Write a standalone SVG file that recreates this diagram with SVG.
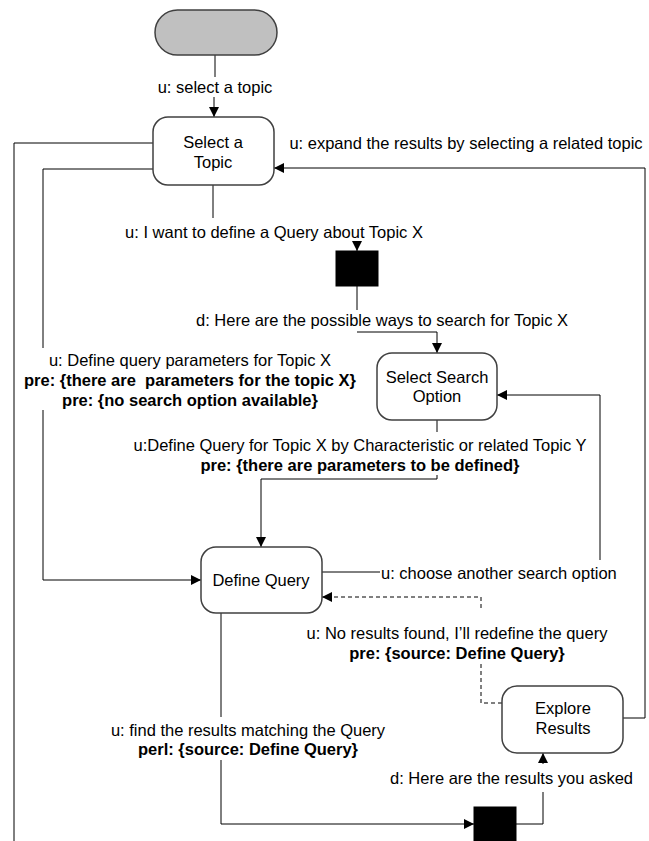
<svg xmlns="http://www.w3.org/2000/svg" width="649" height="841" viewBox="0 0 649 841">
<defs>
<marker id="arr" viewBox="0 0 10 10" refX="10" refY="5" markerWidth="10" markerHeight="10" markerUnits="userSpaceOnUse" orient="auto">
<path d="M0,0 L10,5 L0,10 z" fill="#000"/>
</marker>
<style>
text{font-family:"Liberation Sans",Arial,sans-serif;font-size:16.5px;fill:#000;white-space:pre}
.b{font-weight:bold}
.m{text-anchor:middle}
.node{fill:#fff;stroke:#404040;stroke-width:1.5}
.blk{fill:#000;stroke:#000}
.c{fill:none;stroke:#000;stroke-width:1}
.d{fill:none;stroke:#000;stroke-width:1;stroke-dasharray:4,3}
</style>
</defs>
<rect width="649" height="841" fill="#fff"/>
<g id="connectors">
<path class="c" d="M215,55 L215,77"/>
<path class="c" d="M214,97 L214,117" marker-end="url(#arr)"/>
<path class="c" d="M153,143 L14,143 L14,841"/>
<path class="c" d="M153,169 L43,169 L43,348"/>
<path class="c" d="M43,410 L43,580 L201,580" marker-end="url(#arr)"/>
<path class="c" d="M213,185 L213,218"/>
<path class="c" d="M357,241 L357,251" marker-end="url(#arr)"/>
<path class="c" d="M357,286 L357,310"/>
<path class="c" d="M357,332 L437,332 L437,353" marker-end="url(#arr)"/>
<path class="c" d="M437,420 L437,432"/>
<path class="c" d="M437,475 L437,479 L261,479 L261,547" marker-end="url(#arr)"/>
<path class="c" d="M322,572 L380,572"/>
<path class="c" d="M600,560 L600,395 L497,395" marker-end="url(#arr)"/>
<path class="d" d="M502,703 L481,703 L481,662"/>
<path class="d" d="M481,608 L481,597 L322,597" marker-end="url(#arr)"/>
<path class="c" d="M221,613 L221,717"/>
<path class="c" d="M221,760 L221,824 L474,824" marker-end="url(#arr)"/>
<path class="c" d="M516,824 L543,824 L543,792"/>
<path class="c" d="M543,764 L543,753" marker-end="url(#arr)"/>
<path class="c" d="M623,718 L645,718 L645,168 L274,168" marker-end="url(#arr)"/>
</g>
<g id="labels">
<text class="m" x="215" y="93">u: select a topic</text>
<text class="m" x="466" y="149">u: expand the results by selecting a related topic</text>
<text class="m" x="274" y="238">u: I want to define a Query about Topic X</text>
<text class="m" x="382" y="326">d: Here are the possible ways to search for Topic X</text>
<text class="m" x="190" y="366">u: Define query parameters for Topic X</text>
<text class="m b" x="190" y="386">pre: {there are  parameters for the topic X}</text>
<text class="m b" x="190" y="406">pre: {no search option available}</text>
<text class="m" x="360" y="451">u:Define Query for Topic X by Characteristic or related Topic Y</text>
<text class="m b" x="360" y="471">pre: {there are parameters to be defined}</text>
<text x="381" y="579">u: choose another search option</text>
<text class="m" x="457" y="639">u: No results found, I’ll redefine the query</text>
<text class="m b" x="457" y="659">pre: {source: Define Query}</text>
<text class="m" x="248" y="736">u: find the results matching the Query</text>
<text class="m b" x="248" y="755">perl: {source: Define Query}</text>
<text x="633" y="784" text-anchor="end">d: Here are the results you asked</text>
</g>
<g id="start"><rect x="155" y="10" width="122" height="45" rx="22.5" fill="#c0c0c0" stroke="#404040" stroke-width="1.5"/></g>
<g id="select-topic"><rect class="node" x="153" y="117" width="121" height="68" rx="15"/><text class="m" x="213" y="148">Select a</text><text class="m" x="213" y="168">Topic</text></g>
<g id="bar1"><rect class="blk" x="336" y="251" width="42" height="35"/></g>
<g id="select-search"><rect class="node" x="377" y="353" width="120" height="67" rx="15"/><text class="m" x="437" y="383">Select Search</text><text class="m" x="437" y="402">Option</text></g>
<g id="define-query"><rect class="node" x="201" y="547" width="121" height="66" rx="15"/><text class="m" x="261" y="586">Define Query</text></g>
<g id="explore-results"><rect class="node" x="502" y="686" width="121" height="67" rx="15"/><text class="m" x="563" y="714">Explore</text><text class="m" x="563" y="734">Results</text></g>
<g id="bar2"><rect class="blk" x="474" y="807" width="42" height="36"/></g>
</svg>
